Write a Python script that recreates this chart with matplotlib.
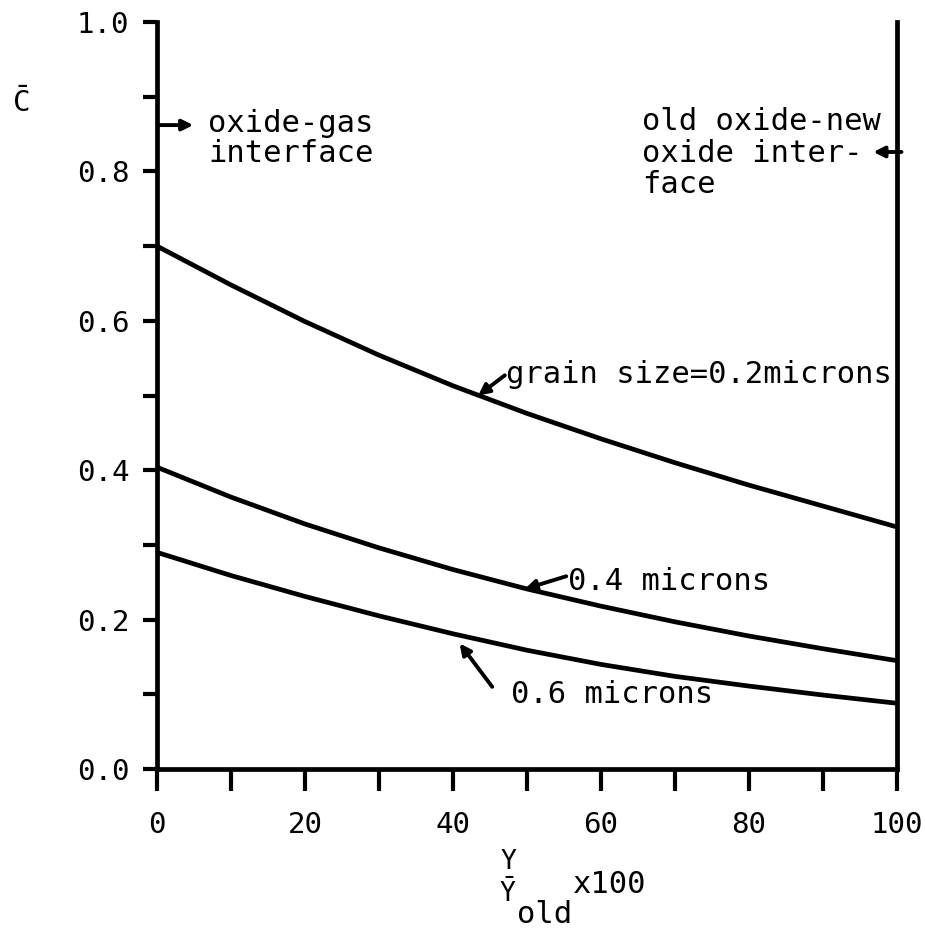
import matplotlib
matplotlib.use("Agg")
import matplotlib.pyplot as plt
from matplotlib.ticker import FixedLocator

plt.rcParams['font.family'] = ['DejaVu Sans Mono']
plt.rcParams['mathtext.fontset'] = 'dejavusans'

# ---- data ----
x_pct = [0, 10, 20, 30, 40, 50, 60, 70, 80, 90, 100]
c_grain_02 = [0.700, 0.648, 0.599, 0.554, 0.513, 0.476, 0.442, 0.410, 0.380, 0.352, 0.324]
c_grain_04 = [0.404, 0.364, 0.328, 0.296, 0.267, 0.241, 0.218, 0.197, 0.178, 0.161, 0.145]
c_grain_06 = [0.290, 0.259, 0.231, 0.205, 0.181, 0.159, 0.140, 0.124, 0.111, 0.099, 0.088]

x_major = [0, 20, 40, 60, 80, 100]
x_minor = [10, 30, 50, 70, 90]
y_major = [0.0, 0.2, 0.4, 0.6, 0.8, 1.0]
y_minor = [0.1, 0.3, 0.5, 0.7, 0.9]
x_labels = ['0', '20', '40', '60', '80', '100']
y_labels = ['0.0', '0.2', '0.4', '0.6', '0.8', '1.0']

W, H = 925, 931
fig = plt.figure(figsize=(W / 100, H / 100), dpi=100)
ax = fig.add_axes([157 / W, 1 - 769 / H, (897 - 157) / W, (769 - 22) / H])
ax.set_xlim(0, 100)
ax.set_ylim(0, 1.0)

lw_curve = 3.4
for ys in (c_grain_02, c_grain_04, c_grain_06):
    ax.plot(x_pct, ys, color='black', lw=lw_curve, solid_capstyle='butt',
            solid_joinstyle='round', clip_on=False)

# spines
ax.spines['top'].set_visible(False)
for s in ('left', 'right', 'bottom'):
    ax.spines[s].set_linewidth(3.4)
    ax.spines[s].set_color('black')

# ticks
ax.xaxis.set_major_locator(FixedLocator(x_major))
ax.xaxis.set_minor_locator(FixedLocator(x_minor))
ax.yaxis.set_major_locator(FixedLocator(y_major))
ax.yaxis.set_minor_locator(FixedLocator(y_minor))
ax.set_xticklabels(x_labels)
ax.set_yticklabels(y_labels)
ax.tick_params(axis='x', which='both', direction='out', length=16, width=3.0, pad=14,
               labelsize=21, bottom=True, top=False)
ax.tick_params(axis='y', which='both', direction='out', length=10, width=3.0, pad=10,
               labelsize=21, left=True, right=False)

fs = 22
arrow_kw = dict(arrowstyle='-|>', color='black', lw=2.8, mutation_scale=16,
                shrinkA=0, shrinkB=0)

# interface annotations
ax.annotate('', xy=(4.9, 0.862), xytext=(0.2, 0.862), arrowprops=arrow_kw,
            annotation_clip=False)
ax.text(6.9, 0.853, 'oxide-gas', fontsize=fs, ha='left', va='baseline')
ax.text(6.9, 0.813, 'interface', fontsize=fs, ha='left', va='baseline')

ax.text(65.5, 0.855, 'old oxide-new', fontsize=fs, ha='left', va='baseline')
ax.text(65.5, 0.813, 'oxide inter-', fontsize=fs, ha='left', va='baseline')
ax.text(65.5, 0.771, 'face', fontsize=fs, ha='left', va='baseline')
ax.annotate('', xy=(96.8, 0.826), xytext=(100.6, 0.826), arrowprops=arrow_kw,
            annotation_clip=False)

# curve labels
ax.text(47.2, 0.517, 'grain size=0.2microns', fontsize=fs, ha='left', va='baseline')
ax.annotate('', xy=(43.4, 0.500), xytext=(47.0, 0.527), arrowprops=arrow_kw)

ax.text(55.6, 0.240, '0.4 microns', fontsize=fs, ha='left', va='baseline')
ax.annotate('', xy=(49.7, 0.241), xytext=(55.3, 0.258), arrowprops=arrow_kw)

ax.text(47.9, 0.088, '0.6 microns', fontsize=fs, ha='left', va='baseline')
ax.annotate('', xy=(40.9, 0.168), xytext=(45.3, 0.110), arrowprops=arrow_kw)

# axis labels
fig.text(21 / W, 1 - 103 / H, r'$\bar{\mathtt{C}}$', fontsize=21, ha='center', va='center')
fig.text(508 / W, 1 - 862 / H, 'Y', fontsize=19, ha='center', va='center')
fig.text(508 / W, 1 - 893 / H, r'$\bar{\mathtt{Y}}$', fontsize=19, ha='center', va='center')
fig.text(517 / W, 1 - 923 / H, 'old', fontsize=fs, ha='left', va='baseline')
fig.text(573 / W, 1 - 893 / H, 'x100', fontsize=fs, ha='left', va='baseline')

fig.savefig('out.png', dpi=100, facecolor='white')
